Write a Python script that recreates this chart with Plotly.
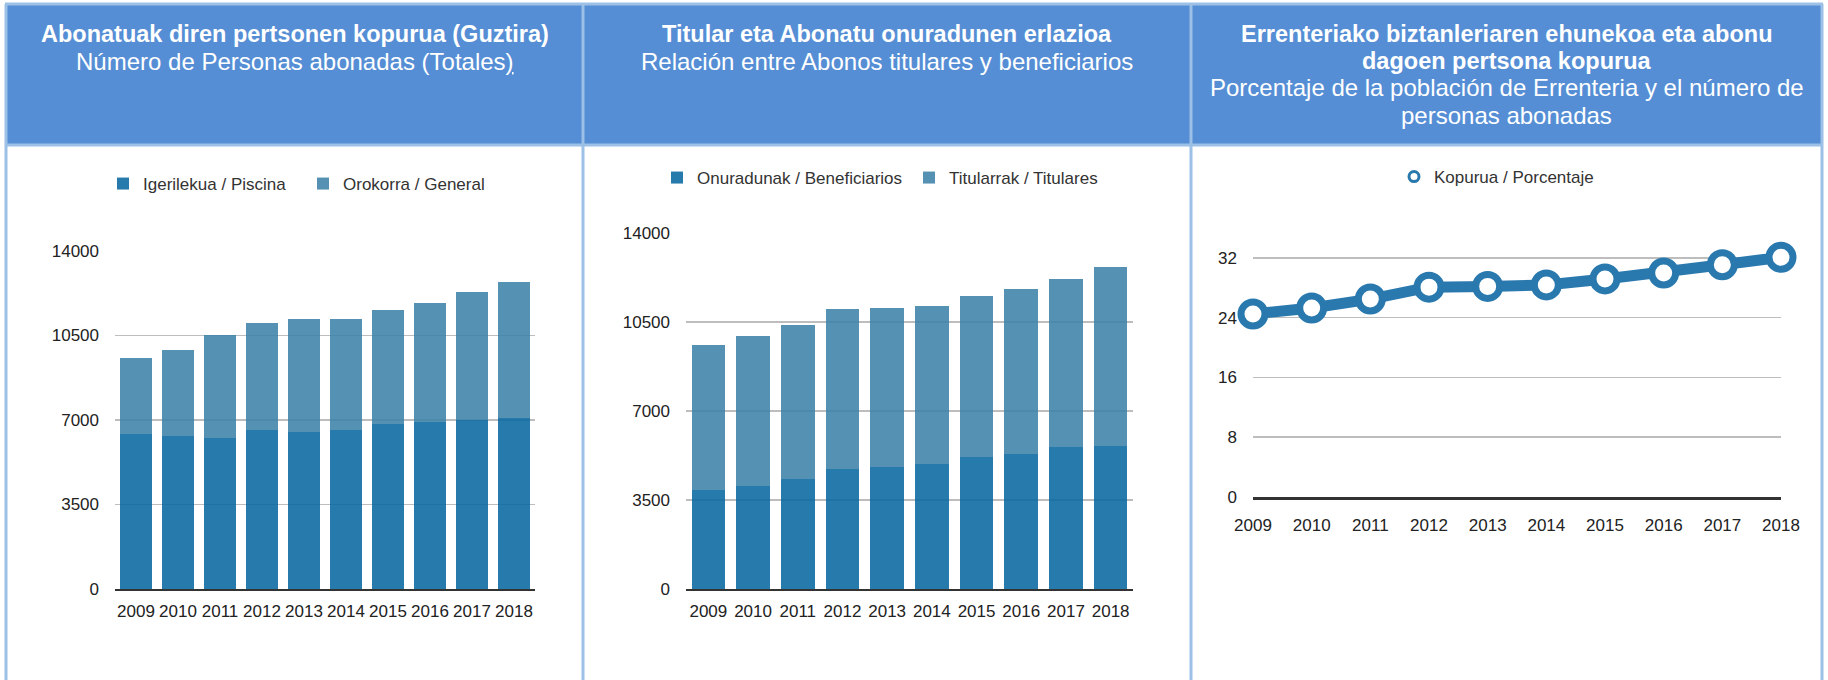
import plotly.graph_objects as go

W, H = 1828, 680

years = ["2009", "2010", "2011", "2012", "2013", "2014", "2015", "2016", "2017", "2018"]

# Chart 1: Número de personas abonadas
piscina = [6425, 6330, 6245, 6595, 6510, 6595, 6845, 6930, 7015, 7100]
general = [3150, 3580, 4260, 4430, 4680, 4595, 4700, 4935, 5275, 5610]

# Chart 2: Titulares / Beneficiarios
beneficiarios = [3900, 4045, 4310, 4705, 4785, 4915, 5195, 5310, 5575, 5640]
titulares = [5695, 5895, 6090, 6315, 6285, 6220, 6335, 6500, 6630, 7025]

# Chart 3: Porcentaje
porcentaje = [24.5, 25.3, 26.5, 28.1, 28.2, 28.4, 29.2, 30.0, 31.1, 32.1]

bar_ticks = [0, 3500, 7000, 10500, 14000]
bar_tick_text = ["0", "3500", "7000", "10500", "14000"]
pct_ticks = [0, 8, 16, 24, 32]
pct_tick_text = ["0", "8", "16", "24", "32"]

DARK = "rgba(8,104,161,0.88)"
LIGHT = "rgba(62,130,168,0.88)"
LINE = "#2A79AE"
HEAD_BG = "#558ED5"
BORDER = "#9CC0E6"
FONT = "Liberation Sans, Arial, sans-serif"


def px(p):
    return p / W


def py(p):
    return 1 - p / H


fig = go.Figure()

fig.add_trace(go.Bar(x=years, y=piscina, name="Igerilekua / Piscina", marker=dict(color=DARK, line=dict(width=0)),
                     xaxis="x", yaxis="y", legend="legend"))
fig.add_trace(go.Bar(x=years, y=general, name="Orokorra / General", marker=dict(color=LIGHT, line=dict(width=0)),
                     xaxis="x", yaxis="y", legend="legend"))

fig.add_trace(go.Bar(x=years, y=beneficiarios, name="Onuradunak / Beneficiarios", marker=dict(color=DARK, line=dict(width=0)),
                     xaxis="x2", yaxis="y2", legend="legend2"))
fig.add_trace(go.Bar(x=years, y=titulares, name="Titularrak / Titulares", marker=dict(color=LIGHT, line=dict(width=0)),
                     xaxis="x2", yaxis="y2", legend="legend2"))

fig.add_trace(go.Scatter(x=years, y=porcentaje, mode="lines+markers", name="Kopurua / Porcentaje",
                         line=dict(color=LINE, width=11),
                         marker=dict(size=24, color="white", line=dict(color=LINE, width=7)),
                         cliponaxis=False, showlegend=False, xaxis="x3", yaxis="y3"))
fig.add_trace(go.Scatter(x=[None], y=[None], mode="markers", name="Kopurua / Porcentaje",
                         marker=dict(size=10, color="white", line=dict(color=LINE, width=3)),
                         xaxis="x3", yaxis="y3", legend="legend3"))

tickfont = dict(family=FONT, size=17, color="#222")
legfont = dict(family=FONT, size=17, color="#333")

xcommon = dict(type="category", showgrid=False, zeroline=False, ticks="", tickfont=tickfont, tickangle=0,
               showline=True, linecolor="#333", linewidth=2, fixedrange=True, automargin=False)
ycommon = dict(showgrid=True, gridcolor="#BDBDBD", gridwidth=1.5, zeroline=False, ticks="",
               tickfont=tickfont, showline=False, fixedrange=True, automargin=False)

# chart 3 y range extended a little above 32 so the last marker is kept
y3_top = 32.6
y3_dom_top = 497 - (497 - 258) * y3_top / 32

fig.update_layout(
    width=W, height=H, autosize=False,
    margin=dict(l=0, r=0, t=0, b=0, autoexpand=False),
    paper_bgcolor="white", plot_bgcolor="white",
    barmode="stack", bargap=0.25,
    xaxis=dict(xcommon, domain=[px(115), px(535)], anchor="y", ticklabelstandoff=6),
    yaxis=dict(ycommon, domain=[py(589), py(251)], anchor="x", range=[0, 14000], tickvals=bar_ticks,
               ticktext=bar_tick_text, ticklabelstandoff=15),
    xaxis2=dict(xcommon, domain=[px(686), px(1133)], anchor="y2", ticklabelstandoff=6),
    yaxis2=dict(ycommon, domain=[py(589), py(233)], anchor="x2", range=[0, 14000], tickvals=bar_ticks,
                ticktext=bar_tick_text, ticklabelstandoff=15),
    xaxis3=dict(xcommon, domain=[px(1253), px(1781)], anchor="y3", range=[0, 9], linewidth=3,
                ticklabelstandoff=11),
    yaxis3=dict(ycommon, domain=[py(497), py(y3_dom_top)], anchor="x3", range=[0, y3_top], tickvals=pct_ticks,
                ticktext=pct_tick_text, ticklabelstandoff=15),
    legend=dict(orientation="h", x=px(103), y=py(184), xanchor="left", yanchor="middle", traceorder="normal",
                font=legfont, entrywidth=155, bgcolor="rgba(0,0,0,0)"),
    legend2=dict(orientation="h", x=px(657), y=py(178), xanchor="left", yanchor="middle", traceorder="normal",
                 font=legfont, entrywidth=207, bgcolor="rgba(0,0,0,0)"),
    legend3=dict(orientation="h", x=px(1394), y=py(177), xanchor="left", yanchor="middle",
                 font=legfont, bgcolor="rgba(0,0,0,0)"),
)

shapes = []
# header background
shapes.append(dict(type="rect", xref="paper", yref="paper", x0=px(6), x1=px(1822), y0=py(144), y1=py(5),
                   fillcolor=HEAD_BG, line=dict(width=0), layer="below"))
# borders
for xb in [6, 583, 1191, 1822]:
    shapes.append(dict(type="line", xref="paper", yref="paper", x0=px(xb), x1=px(xb), y0=py(680), y1=py(4),
                       line=dict(color=BORDER, width=3)))
for yb in [4, 145]:
    shapes.append(dict(type="line", xref="paper", yref="paper", x0=px(5), x1=px(1823), y0=py(yb), y1=py(yb),
                       line=dict(color=BORDER, width=3)))
fig.update_layout(shapes=shapes)

headers = [
    (294.5, [("<b>Abonatuak diren pertsonen kopurua (Guztira)</b>", 34),
             ("Número de Personas abonadas (Totales<u>)</u>", 61)]),
    (887, [("<b>Titular eta Abonatu onuradunen erlazioa</b>", 34),
           ("Relación entre Abonos titulares y beneficiarios", 61)]),
    (1506.5, [("<b>Errenteriako biztanleriaren ehunekoa eta abonu</b>", 34),
              ("<b>dagoen pertsona kopurua</b>", 61),
              ("Porcentaje de la población de Errenteria y el número de", 88),
              ("personas abonadas", 115)]),
]
annotations = []
for cx, lines in headers:
    for txt, cy in lines:
        size = 23.5 if txt.startswith("<b>") else 24
        annotations.append(dict(text=txt, xref="paper", yref="paper", x=px(cx), y=py(cy),
                                xanchor="center", yanchor="middle", showarrow=False,
                                font=dict(family=FONT, size=size, color="white")))
fig.update_layout(annotations=annotations)

fig.write_html("out.html", config={"displayModeBar": False, "staticPlot": True},
               post_script="document.body.style.margin='0px';")
